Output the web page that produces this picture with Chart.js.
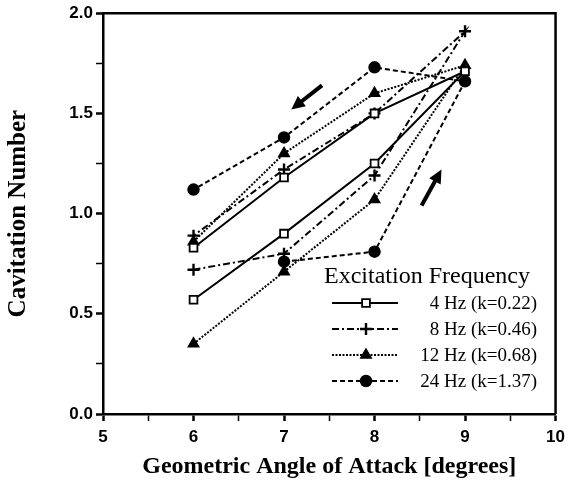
<!DOCTYPE html>
<html>
<head>
<meta charset="utf-8">
<script src="https://cdn.jsdelivr.net/npm/chart.js@4.4.1/dist/chart.umd.min.js"></script>
<style>
  html, body { margin: 0; padding: 0; background: #fff; }
  #wrap { width: 571px; height: 490px; }
</style>
</head>
<body>
<div id="wrap"><canvas id="chart" width="571" height="490"></canvas></div>
<script>
// angle path: up from 6 to 9 deg, then back down to 6 deg
const pathAngles = [6, 7, 8, 9, 8, 7, 6];
const cav4Hz  = [0.57, 0.90, 1.25, 1.71, 1.50, 1.18, 0.83];
const cav8Hz  = [0.72, 0.80, 1.19, 1.91, 1.50, 1.22, 0.89];
const cav12Hz = [0.35, 0.71, 1.07, 1.74, 1.60, 1.30, 0.86];
const cav24Hz = [null, 0.76, 0.81, 1.66, 1.73, 1.38, 1.12];

const seriesLabels = ['4 Hz (k=0.22)', '8 Hz (k=0.46)', '12 Hz (k=0.68)', '24 Hz (k=1.37)'];
const legendTitle = 'Excitation Frequency';

// direction arrows, in data units [x0, y0, x1, y1]
const arrows = [
  [7.42, 1.64, 7.08, 1.52],
  [8.52, 1.04, 8.74, 1.22]
];

const toPoints = vals => pathAngles
  .map((x, i) => ({ x, y: vals[i] }))
  .filter(p => p.y !== null);

const styles = [
  { pointStyle: 'rect',     radius: 5.5, fill: '#fff', dash: [],            bw: 1.8 },
  { pointStyle: 'cross',    radius: 6,   fill: '#000', dash: [7, 3, 2, 3],  bw: 2.4 },
  { pointStyle: 'triangle', radius: 6,   fill: '#000', dash: [2, 1.5],      bw: 1.5 },
  { pointStyle: 'circle',   radius: 5.5, fill: '#000', dash: [5, 3],        bw: 1.5 }
];

const allVals = [cav4Hz, cav8Hz, cav12Hz, cav24Hz];

const datasets = allVals.map((vals, i) => ({
  label: seriesLabels[i],
  data: toPoints(vals),
  showLine: true,
  borderColor: '#000',
  borderWidth: 2,
  borderDash: styles[i].dash,
  pointStyle: styles[i].pointStyle,
  pointRadius: styles[i].radius,
  pointBackgroundColor: styles[i].fill,
  pointBorderColor: '#000',
  pointBorderWidth: styles[i].bw,
  tension: 0
}));

const extras = {
  id: 'extras',
  afterDraw(chart) {
    const { ctx, chartArea: a, scales: { x, y } } = chart;
    ctx.save();
    // top and right frame
    ctx.strokeStyle = '#000';
    ctx.lineWidth = 2.5;
    ctx.setLineDash([]);
    ctx.beginPath();
    ctx.moveTo(a.left, a.top);
    ctx.lineTo(a.right, a.top);
    ctx.lineTo(a.right, a.bottom);
    ctx.stroke();

    // arrows
    ctx.lineWidth = 4;
    arrows.forEach(([x0, y0, x1, y1]) => {
      const px0 = x.getPixelForValue(x0), py0 = y.getPixelForValue(y0);
      const px1 = x.getPixelForValue(x1), py1 = y.getPixelForValue(y1);
      const ang = Math.atan2(py1 - py0, px1 - px0);
      ctx.beginPath();
      ctx.moveTo(px0, py0);
      ctx.lineTo(px1 - 8 * Math.cos(ang), py1 - 8 * Math.sin(ang));
      ctx.stroke();
      ctx.beginPath();
      ctx.moveTo(px1, py1);
      ctx.lineTo(px1 - 15 * Math.cos(ang - 0.45), py1 - 15 * Math.sin(ang - 0.45));
      ctx.lineTo(px1 - 15 * Math.cos(ang + 0.45), py1 - 15 * Math.sin(ang + 0.45));
      ctx.closePath();
      ctx.fillStyle = '#000';
      ctx.fill();
    });

    // legend
    ctx.fillStyle = '#000';
    ctx.textBaseline = 'middle';
    ctx.font = '24px "Liberation Serif"';
    ctx.textAlign = 'center';
    ctx.fillText(legendTitle, 427, 277);
    ctx.font = '19px "Liberation Serif"';
    ctx.textAlign = 'right';
    seriesLabels.forEach((lab, i) => {
      const ly = 303 + i * 26;
      ctx.strokeStyle = '#000';
      ctx.lineWidth = 2;
      ctx.setLineDash(styles[i].dash);
      ctx.beginPath();
      ctx.moveTo(332, ly);
      ctx.lineTo(398, ly);
      ctx.stroke();
      ctx.setLineDash([]);
      ctx.fillStyle = styles[i].fill;
      ctx.lineWidth = styles[i].bw;
      Chart.helpers.drawPoint(ctx, {
        pointStyle: styles[i].pointStyle,
        radius: styles[i].radius,
        rotation: 0,
        borderWidth: styles[i].bw
      }, 366, ly);
      ctx.fillStyle = '#000';
      ctx.fillText(lab, 537, ly + 1);
    });
    ctx.restore();
  }
};

const tickFont = { family: 'Liberation Sans', weight: 'bold', size: 17 };
const isMajorY = v => Math.abs(v * 2 - Math.round(v * 2)) < 1e-9;

new Chart(document.getElementById('chart').getContext('2d'), {
  type: 'scatter',
  data: { datasets },
  options: {
    responsive: false,
    animation: false,
    layout: { padding: { top: 12, right: 13, left: 0, bottom: 0 } },
    plugins: { legend: { display: false }, tooltip: { enabled: false } },
    scales: {
      x: {
        type: 'linear', min: 5, max: 10,
        ticks: {
          stepSize: 0.5, autoSkip: false, maxRotation: 0,
          color: '#000', font: tickFont, padding: 6,
          callback: v => Number.isInteger(v) ? String(v) : ''
        },
        grid: {
          drawOnChartArea: false, tickLength: 7, tickColor: '#000',
          tickWidth: c => Number.isInteger(c.tick.value) ? 2.5 : 1.5
        },
        border: { color: '#000', width: 2.5 },
        title: { display: true, text: 'Geometric Angle of Attack [degrees]', color: '#000',
                 font: { family: 'Liberation Serif', weight: 'bold', size: 24 }, padding: { top: 0, bottom: 9 } },
        afterFit: s => { s.height = 76; }
      },
      y: {
        min: 0, max: 2,
        ticks: {
          stepSize: 0.25, color: '#000', font: tickFont, padding: 3,
          callback: v => isMajorY(v) ? v.toFixed(1) : ''
        },
        grid: {
          drawOnChartArea: false, tickLength: 7, tickColor: '#000',
          tickWidth: c => isMajorY(c.tick.value) ? 2.5 : 1.5
        },
        border: { color: '#000', width: 2.5 },
        title: { display: true, text: 'Cavitation Number', color: '#000',
                 font: { family: 'Liberation Serif', weight: 'bold', size: 25 }, padding: { top: 4, bottom: 0 } },
        afterFit: s => { s.width = 103; }
      }
    }
  },
  plugins: [extras]
});
</script>
</body>
</html>
